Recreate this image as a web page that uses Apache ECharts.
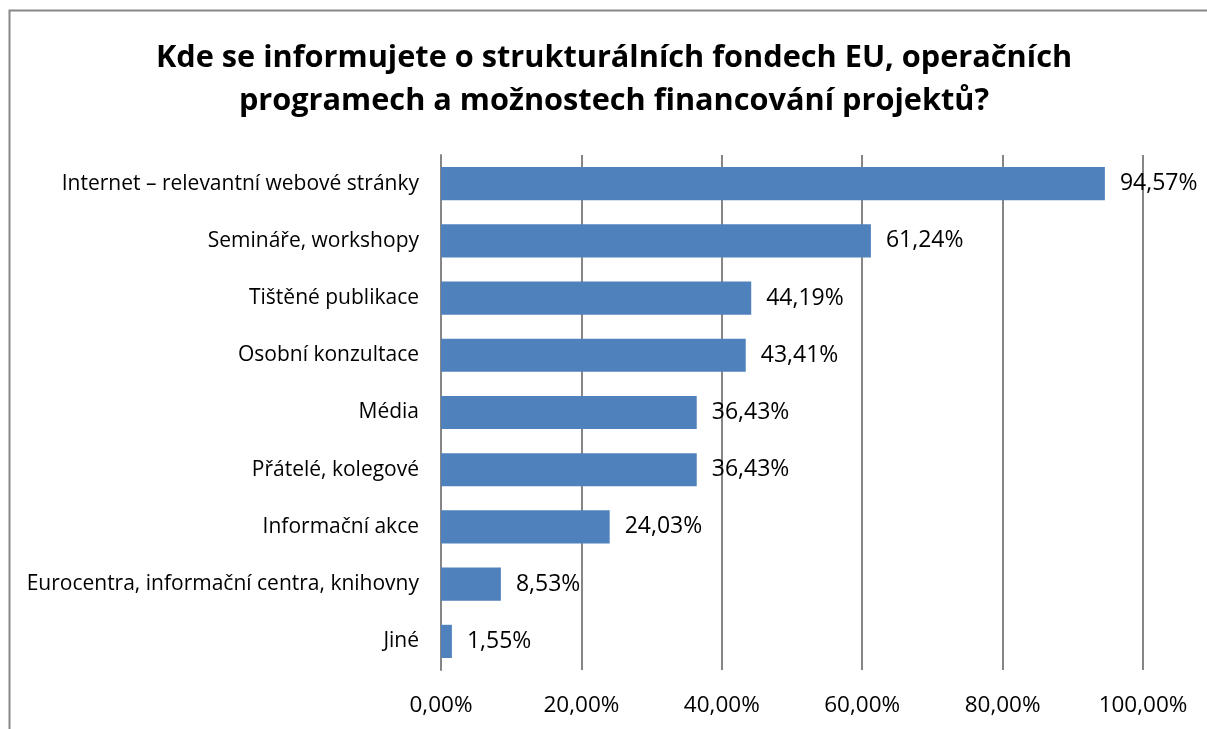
<!DOCTYPE html>
<html>
<head>
<meta charset="utf-8">
<script src="https://cdn.jsdelivr.net/npm/echarts@6/dist/echarts.min.js"></script>
<style>
html, body { margin: 0; padding: 0; background: #fff; }
#main { width: 1207px; height: 729px; }
</style>
</head>
<body>
<div id="main"></div>
<script>
var myChart = echarts.init(document.getElementById('main'));

var titleText = 'Kde se informujete o strukturálních fondech EU, operačních\nprogramech a možnostech financování projektů?';
var categories = [
  'Internet – relevantní webové stránky',
  'Semináře, workshopy',
  'Tištěné publikace',
  'Osobní konzultace',
  'Média',
  'Přátelé, kolegové',
  'Informační akce',
  'Eurocentra, informační centra, knihovny',
  'Jiné'
];
var values = [94.57, 61.24, 44.19, 43.41, 36.43, 36.43, 24.03, 8.53, 1.55];

var fmt = function (v) {
  return v.toFixed(2).replace('.', ',') + '%';
};

var font = '"Open Sans", Lato, sans-serif';

var option = {
  animation: false,
  textStyle: { fontFamily: font },
  title: {
    text: titleText,
    left: 609,
    top: 32,
    textAlign: 'center',
    textStyle: {
      fontSize: 30.7,
      fontWeight: 'bold',
      color: '#000',
      lineHeight: 43,
      fontFamily: font
    }
  },
  graphic: [{
    type: 'rect',
    shape: { x: 9.5, y: 10.5, width: 1220, height: 740 },
    style: { fill: 'none', stroke: '#878787', lineWidth: 2 }
  }],
  grid: { left: 441, right: 64, top: 155, bottom: 59 },
  xAxis: {
    type: 'value',
    min: 0,
    max: 100,
    interval: 20,
    axisLine: { show: false },
    axisTick: { show: false },
    axisLabel: {
      fontSize: 22.5,
      color: '#000',
      margin: 24,
      formatter: function (v) { return fmt(v); }
    },
    splitLine: { lineStyle: { color: '#868686', width: 2 } }
  },
  yAxis: {
    type: 'category',
    data: categories,
    inverse: true,
    axisLine: { show: true, lineStyle: { color: '#868686', width: 2 } },
    axisTick: { show: false },
    axisLabel: { fontSize: 21, color: '#000', margin: 22 }
  },
  series: [{
    type: 'bar',
    data: values,
    barCategoryGap: '42%',
    itemStyle: { color: '#4F81BD' },
    label: {
      show: true,
      position: 'right',
      distance: 15,
      fontSize: 23,
      color: '#000',
      formatter: function (p) { return fmt(p.value); }
    }
  }]
};

myChart.setOption(option);
window.onresize = myChart.resize;
</script>
</body>
</html>
